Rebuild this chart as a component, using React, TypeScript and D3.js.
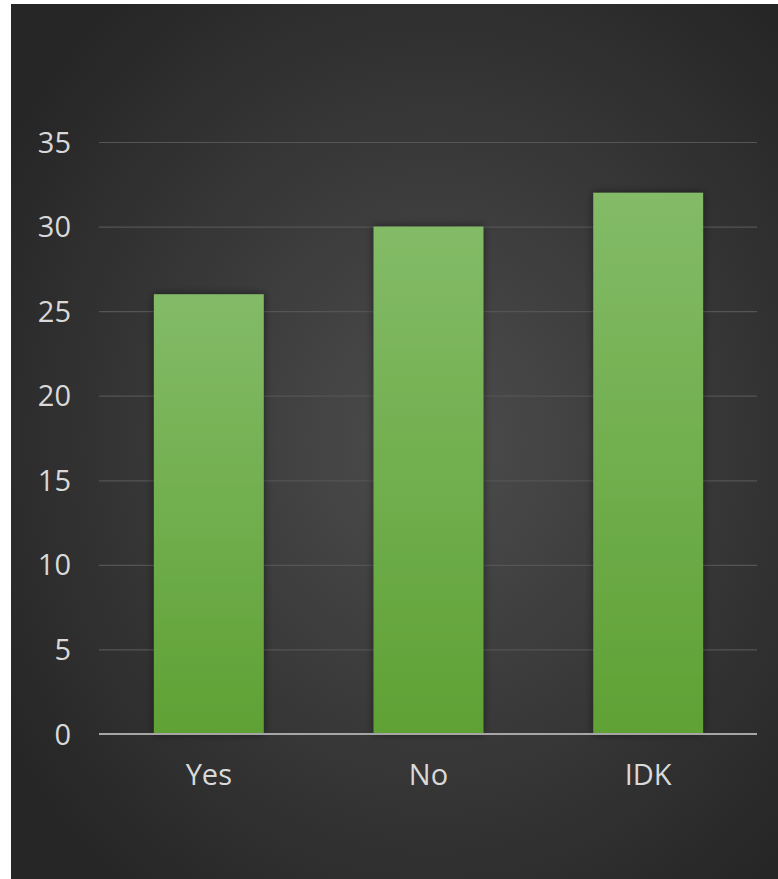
import React, { useEffect, useRef } from "react";
import * as d3 from "d3";

const categories = ["Yes", "No", "IDK"];
const values = [26, 30, 32];
const yTicks = [0, 5, 10, 15, 20, 25, 30, 35];

export default function App() {
  const ref = useRef<SVGSVGElement | null>(null);
  useEffect(() => {
    const svg = d3.select(ref.current);
    svg.selectAll("*").remove();
    const W = 778, H = 879;
    const defs = svg.append("defs");
    const bg = defs.append("radialGradient").attr("id", "bg")
      .attr("cx", "0.55").attr("cy", "0.5").attr("r", "0.65");
    bg.append("stop").attr("offset", "0").attr("stop-color", "#4d4d4d");
    bg.append("stop").attr("offset", "1").attr("stop-color", "#262626");
    const bar = defs.append("linearGradient").attr("id", "bar")
      .attr("x1", 0).attr("y1", 0).attr("x2", 0).attr("y2", 1);
    bar.append("stop").attr("offset", "0").attr("stop-color", "#83bb67");
    bar.append("stop").attr("offset", "1").attr("stop-color", "#5fa134");
    const sh = defs.append("filter").attr("id", "sh")
      .attr("x", "-20%").attr("y", "-20%").attr("width", "140%").attr("height", "140%");
    sh.append("feDropShadow").attr("dx", 0).attr("dy", 0).attr("stdDeviation", 4)
      .attr("flood-color", "#000").attr("flood-opacity", 0.5);

    svg.append("rect").attr("x", 11).attr("y", 4).attr("width", W - 11).attr("height", H - 4)
      .attr("fill", "url(#bg)");

    const x = d3.scaleBand().domain(categories).range([99, 758]).paddingInner(0.5).paddingOuter(0.25);
    const y = d3.scaleLinear().domain([0, 35]).range([734, 142]);

    const font = "'Open Sans', sans-serif";
    svg.append("g").selectAll("line").data(yTicks.filter(t => t > 0)).join("line")
      .attr("x1", 99).attr("x2", 757)
      .attr("y1", d => y(d) + 0.5).attr("y2", d => y(d) + 0.5)
      .attr("stroke", "#555555").attr("stroke-width", 1.2);

    svg.append("g").selectAll("rect").data(values).join("rect")
      .attr("x", (d, i) => x(categories[i])!)
      .attr("y", d => y(d))
      .attr("width", x.bandwidth())
      .attr("height", d => y(0) - y(d))
      .attr("fill", "url(#bar)")
      .attr("filter", "url(#sh)");

    svg.append("line").attr("x1", 99).attr("x2", 757).attr("y1", 734).attr("y2", 734)
      .attr("stroke", "#a6a6a6").attr("stroke-width", 2);

    svg.append("g").selectAll("text").data(yTicks).join("text")
      .attr("x", 71).attr("y", d => y(d) + 10.5)
      .attr("text-anchor", "end")
      .attr("fill", "#d9d9d9").attr("font-size", 29).attr("font-family", font)
      .text(d => d);

    svg.append("g").selectAll("text").data(categories).join("text")
      .attr("x", d => x(d)! + x.bandwidth() / 2).attr("y", 785)
      .attr("text-anchor", "middle")
      .attr("fill", "#d9d9d9").attr("font-size", 29).attr("font-family", font)
      .text(d => d);
  }, []);
  return (
    <svg ref={ref} width={778} height={879}
      style={{ position: "absolute", left: 0, top: 0, display: "block" }} />
  );
}
